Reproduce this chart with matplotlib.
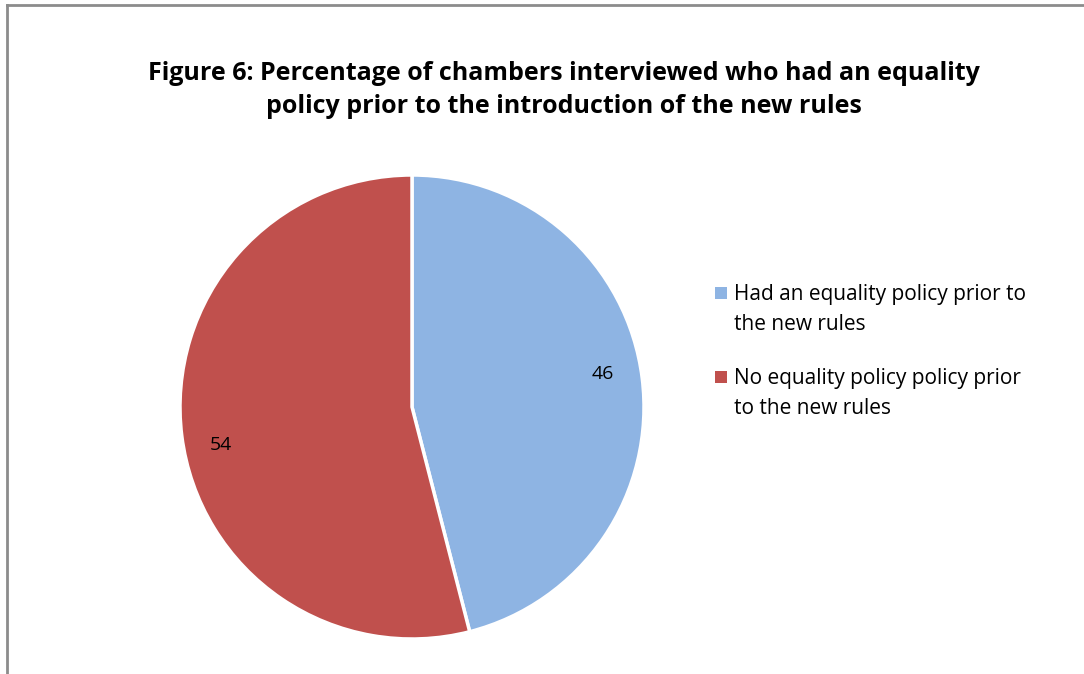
import matplotlib.pyplot as plt
from matplotlib.patches import Rectangle
from matplotlib.lines import Line2D

# Chambers with / without an equality policy (%)
labels = ['Had an equality policy prior to\nthe new rules',
          'No equality policy policy prior\nto the new rules']
values = [46, 54]
colors = ['#8EB4E3', '#C0504D']

title = ('Figure 6: Percentage of chambers interviewed who had an equality\n'
         'policy prior to the introduction of the new rules')

W, H = 1084, 674
fig = plt.figure(figsize=(W / 100, H / 100), dpi=100)


def fx(px):
    return px / W


def fy(py):
    return 1 - py / H


# Chart area border (top and left edges)
fig.add_artist(Line2D([fx(7), 1], [fy(5), fy(5)], color='#8c8c8c', lw=2,
                      transform=fig.transFigure))
fig.add_artist(Line2D([fx(7), fx(7)], [0, fy(5)], color='#8c8c8c', lw=2,
                      transform=fig.transFigure))

fig.text(fx(564), fy(90), title, ha='center', va='center',
         fontsize=18, fontweight='bold', family='Open Sans', linespacing=1.45)

r = 232
ax = fig.add_axes([fx(412 - r), fy(407 + r), 2 * r / W, 2 * r / H])
wedges, texts = ax.pie(values, colors=colors, startangle=90, counterclock=False,
                       labels=[str(v) for v in values], labeldistance=0.83,
                       wedgeprops=dict(edgecolor='white', linewidth=2.5),
                       textprops=dict(fontsize=14, family='Open Sans'))
# data labels sit a little lower than the wedge mid-angle
for t in texts:
    t.set_ha('center')
    t.set_va('center')
    x, y = t.get_position()
    t.set_position((x, y + (0.04 if x > 0 else -0.06)))
ax.set_xlim(-1, 1)
ax.set_ylim(-1, 1)
ax.set_aspect('equal')

# Legend: square marker beside the first line of each wrapped label
for i, (lab, c) in enumerate(zip(labels, colors)):
    y0 = 293 + i * 84
    fig.add_artist(Rectangle((fx(715), fy(y0 + 6)), 12 / W, 12 / H,
                             facecolor=c, edgecolor='none',
                             transform=fig.transFigure))
    fig.text(fx(734), fy(y0 - 9), lab, ha='left', va='top', fontsize=15,
             family='Open Sans', linespacing=1.55)

fig.savefig('out.png', dpi=100)
